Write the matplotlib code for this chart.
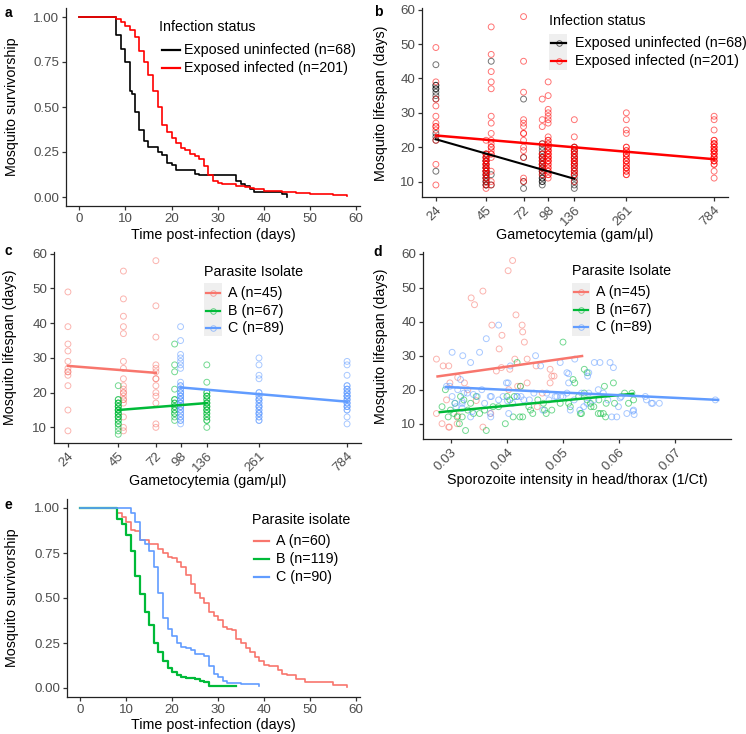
import numpy as np
import matplotlib
matplotlib.use('Agg')
import matplotlib.pyplot as plt
from matplotlib.lines import Line2D
from matplotlib.patches import Rectangle

plt.rcParams['font.family'] = ['Liberation Sans', 'DejaVu Sans']

# Kaplan-Meier curves, panel a (time in days, survival fraction)
a_unexp_t = [0, 8, 9, 10, 11, 11.5, 12, 13, 14, 15, 17, 18, 19, 20, 21, 25, 26, 34, 35, 36, 37, 38, 42, 44, 45]
a_unexp_s = [1, 0.90, 0.82, 0.75, 0.59, 0.57, 0.47, 0.37, 0.31, 0.28, 0.25, 0.235, 0.19, 0.18, 0.15, 0.13, 0.12,
             0.09, 0.07, 0.06, 0.045, 0.03, 0.03, 0.015, 0.0]
a_inf_t = [0, 8, 9, 10, 11, 12, 13, 14, 15, 16, 17, 18, 19, 20, 21, 22, 23, 24, 25, 26, 27, 28, 29, 30, 31, 32,
           34, 36, 37, 38, 40, 44, 47, 50, 55, 58]
a_inf_s = [1, 0.99, 0.97, 0.95, 0.93, 0.89, 0.81, 0.75, 0.68, 0.59, 0.50, 0.40, 0.36, 0.33, 0.30, 0.27, 0.26,
           0.24, 0.23, 0.21, 0.17, 0.12, 0.09, 0.08, 0.075, 0.07, 0.06, 0.055, 0.05, 0.045, 0.035, 0.03, 0.02,
           0.015, 0.01, 0.005]

# Kaplan-Meier curves, panel e
e_A_t = [0, 8, 9, 10, 11, 12, 13, 15, 17, 18, 19, 20, 21, 22, 23, 24, 25, 26, 27, 28, 29, 30, 31, 32, 33, 34,
         35, 36, 37, 38, 39, 40, 41, 43, 44, 45, 47, 49, 55, 58]
e_A_s = [1, 0.97, 0.95, 0.92, 0.88, 0.87, 0.82, 0.80, 0.77, 0.75, 0.73, 0.72, 0.70, 0.67, 0.63, 0.58, 0.53,
         0.50, 0.47, 0.42, 0.40, 0.38, 0.34, 0.33, 0.32, 0.27, 0.25, 0.22, 0.20, 0.17, 0.15, 0.13, 0.12, 0.10,
         0.08, 0.07, 0.05, 0.035, 0.015, 0.005]
e_B_t = [0, 8, 9, 10, 11, 12, 13, 14, 15, 16, 17, 18, 19, 20, 21, 22, 23, 25, 26, 27, 28, 34]
e_B_s = [1, 0.94, 0.91, 0.85, 0.76, 0.62, 0.52, 0.42, 0.35, 0.25, 0.20, 0.15, 0.11, 0.09, 0.07, 0.06, 0.055,
         0.05, 0.04, 0.035, 0.01, 0.01]
e_C_t = [0, 11, 12, 13, 14, 15, 16, 17, 18, 19, 20, 21, 22, 23, 24, 25, 27, 28, 29, 30, 31, 32, 35, 39]
e_C_s = [1, 0.97, 0.92, 0.82, 0.80, 0.76, 0.67, 0.53, 0.39, 0.33, 0.29, 0.25, 0.23, 0.22, 0.21, 0.19, 0.18,
         0.12, 0.08, 0.06, 0.04, 0.03, 0.02, 0.01]

# lifespan by gametocytemia, exposed uninfected (panel b)
b_unexp_gam = [24, 45, 48, 72, 91, 136]
b_unexp_life = [[44, 38, 37, 35, 34, 24, 22, 13, 36, 38, 23, 37],
                [18, 17, 16, 15, 14, 13, 12, 11, 10, 9, 16, 14, 12, 10, 9, 11, 13],
                [45, 9, 12],
                [34, 17, 8, 10],
                [21, 20, 19, 18, 17, 16, 15, 14, 13, 12, 11, 10, 9, 17, 15, 13, 11, 10, 14],
                [20, 18, 16, 14, 12, 11, 9, 8, 17, 15, 13, 10, 19]]

# lifespan by gametocytemia per isolate (panel c; also the infected group of panel b)
c_A_gam = [24, 48, 72]
c_A_life = [[49, 39, 34, 32, 29, 27, 26, 25, 22, 15, 9, 26],
            [55, 47, 42, 39, 37, 29, 27, 24, 22, 21, 20, 19, 18, 17, 13, 10, 9, 20, 18],
            [58, 45, 36, 28, 27, 26, 24, 22, 20, 19, 17, 11, 10, 24]]
c_B_gam = [45, 91, 136]
c_B_life = [[22, 18, 17, 16, 15, 14, 13, 12, 11, 10, 9, 8, 18, 17, 16, 15, 14, 13, 12, 11, 16, 15, 14, 13, 17, 15],
            [34, 28, 26, 21, 18, 17, 16, 15, 14, 12, 18, 17, 16, 15, 14, 13],
            [28, 23, 20, 19, 18, 17, 16, 15, 14, 13, 12, 10, 20, 19, 17, 16, 15, 14, 13, 12, 18, 17, 16, 19, 15]]
c_C_gam = [98, 261, 784]
c_C_life = [[39, 35, 31, 30, 29, 28, 27, 23, 22, 21, 20, 19, 18, 17, 16, 15, 14, 13, 12, 11, 22, 21, 20, 19, 18,
             17, 16, 15, 14, 13, 12, 20, 19, 18, 17, 16],
            [30, 28, 25, 24, 20, 19, 18, 17, 16, 15, 14, 13, 12, 20, 19, 18, 17, 16, 15, 14, 13, 12, 18, 16, 14],
            [29, 28, 25, 22, 21, 20, 19, 18, 17, 16, 15, 13, 11, 22, 21, 20, 19, 18, 17, 16, 15, 20, 19, 18, 17,
             16, 21, 19]]

# lifespan by sporozoite intensity (panel d)
d_A_int = [0.0274, 0.0286, 0.0296, 0.0274, 0.0284, 0.0296, 0.0292, 0.0298, 0.0311, 0.0324, 0.0336, 0.0342,
           0.0357, 0.0357, 0.0373, 0.0391, 0.0386, 0.0381, 0.0402, 0.0410, 0.0416, 0.0414, 0.0427, 0.0428,
           0.0431, 0.0419, 0.0436, 0.0436, 0.0403, 0.0477, 0.0480, 0.0484, 0.0477, 0.0452, 0.0371, 0.0312,
           0.0345, 0.0312, 0.0454, 0.0297, 0.0390, 0.0424, 0.0405, 0.0463, 0.0330]
d_A_life = [29, 27, 27, 13, 10, 9, 17, 22, 10, 22, 47, 45, 49, 9, 39, 36, 32, 25.5, 55, 58, 42, 29, 39, 37,
            34, 21, 29, 22, 20, 26, 24, 24, 22, 27, 13, 12.3, 16.8, 23.6, 15, 9, 26.5, 21, 26, 19, 20]
d_B_int = [0.0284, 0.0299, 0.0311, 0.0315, 0.0326, 0.0363, 0.0317, 0.0335, 0.0351, 0.0323, 0.0307, 0.0397,
           0.0400, 0.0405, 0.0411, 0.0423, 0.0428, 0.0418, 0.0424, 0.0439, 0.0442, 0.0446, 0.0465, 0.0467,
           0.0470, 0.0500, 0.0510, 0.0513, 0.0518, 0.0521, 0.0531, 0.0538, 0.0543, 0.0538, 0.0543, 0.0549,
           0.0555, 0.0564, 0.0567, 0.0574, 0.0577, 0.0576, 0.0590, 0.0592, 0.0617, 0.0623, 0.0626, 0.0528,
           0.0295, 0.0305, 0.0320, 0.0330, 0.0345, 0.0360, 0.0375, 0.0385, 0.0455, 0.0480, 0.0495, 0.0533,
           0.0550, 0.0563, 0.0572, 0.0610, 0.0413, 0.0290, 0.0340]
d_B_life = [15, 14, 12, 10, 8, 8, 18, 16, 13, 17, 16, 10, 18, 17, 12, 12, 12, 28, 21, 15, 14, 13, 16, 14,
            13, 34, 16, 15, 23, 22, 13, 26, 25, 19, 17, 16, 15, 17, 13, 21, 16, 12, 22, 16, 16, 19, 17, 18,
            12, 13, 12, 14, 18, 14, 15, 15, 17, 14, 16, 13, 15, 13, 13, 19, 18, 20, 13]
d_C_int = [0.0292, 0.0302, 0.0302, 0.0321, 0.0323, 0.0320, 0.0335, 0.0340, 0.0351, 0.0363, 0.0370, 0.0370,
           0.0385, 0.0399, 0.0403, 0.0406, 0.0418, 0.0430, 0.0451, 0.0460, 0.0464, 0.0471, 0.0486, 0.0495,
           0.0507, 0.0510, 0.0513, 0.0521, 0.0533, 0.0544, 0.0546, 0.0556, 0.0566, 0.0584, 0.0590, 0.0596,
           0.0602, 0.0614, 0.0626, 0.0647, 0.0658, 0.0672, 0.0772, 0.0317, 0.0320, 0.0329, 0.0307, 0.0309,
           0.0320, 0.0335, 0.0338, 0.0371, 0.0347, 0.0372, 0.0393, 0.0401, 0.0402, 0.0418, 0.0425, 0.0448,
           0.0489, 0.0496, 0.0507, 0.0510, 0.0537, 0.0546, 0.0563, 0.0572, 0.0587, 0.0599, 0.0625, 0.0627,
           0.0649, 0.0660, 0.0543, 0.0555, 0.0580, 0.0520, 0.0500, 0.0475, 0.0440, 0.0385, 0.0355, 0.0312,
           0.0298, 0.0360, 0.0410, 0.0530, 0.0604]
d_C_life = [21, 31, 18, 30, 19, 16, 28, 18.6, 31, 35, 18, 13, 39, 22, 13, 27, 18, 17, 30, 27, 14, 19, 18, 28,
            25, 22, 14, 29, 19, 24, 25, 28, 28, 28, 26.5, 12, 17.6, 13, 14, 18, 16, 16, 17, 23, 16.6, 19, 16, 15,
            14.5, 12, 13.6, 12, 18, 18, 18, 16.7, 22, 18, 18, 19, 18, 18, 19, 24.7, 15, 19, 20, 19, 12, 15,
            13.7, 12.7, 17, 16, 16, 17, 17, 17, 18, 17, 17, 17, 20, 20, 21, 16, 16, 14, 18]

# linear fits (end points)
b_fit_unexp = ([24, 136], [22.3, 10.8])
b_fit_inf = ([24, 784], [23.4, 16.5])
c_fit_A = ([24, 72], [27.7, 25.7])
c_fit_B = ([45, 136], [15.0, 17.0])
c_fit_C = ([98, 784], [21.5, 17.4])
d_fit_A = ([0.0276, 0.0534], [23.9, 29.9])
d_fit_B = ([0.0280, 0.0625], [13.4, 18.8])
d_fit_C = ([0.0291, 0.0777], [20.8, 17.0])

gam_ticks = [24, 45, 72, 98, 136, 261, 784]
col_A, col_B, col_C = '#F8766D', '#00BA38', '#619CFF'

W, H = 746, 734
fig = plt.figure(figsize=(W / 100, H / 100), dpi=100)


def box(l, t, r, b):
    return [l / W, 1 - b / H, (r - l) / W, (b - t) / H]


def style(ax):
    for s in ['top', 'right']:
        ax.spines[s].set_visible(False)
    for s in ['left', 'bottom']:
        ax.spines[s].set_color('#222222')
        ax.spines[s].set_linewidth(0.9)
    ax.tick_params(colors='#333333', labelcolor='#4D4D4D', labelsize=9.6, length=3, width=0.9, pad=2)


def expand(groups_x, groups_y):
    xs, ys = [], []
    for g, vals in zip(groups_x, groups_y):
        xs += [g] * len(vals)
        ys += vals
    return np.array(xs, float), np.array(ys, float)


def ftext(x, y, s, **kw):
    fig.text(x / W, 1 - y / H, s, **kw)


def legend(tx, ty, title, labels, colors, ys, kx, txt_x, bg=None, marker=False):
    ftext(tx, ty, title, fontsize=10.3, va='center', ha='left')
    if bg is not None:
        fig.add_artist(Rectangle((bg[0] / W, 1 - bg[3] / H), (bg[2] - bg[0]) / W, (bg[3] - bg[1]) / H,
                                 transform=fig.transFigure, facecolor='#EFEFEF', edgecolor='none'))
    for yy, lab, col in zip(ys, labels, colors):
        fig.add_artist(Line2D([kx[0] / W, kx[1] / W], [1 - yy / H] * 2, color=col, lw=1.6,
                              transform=fig.transFigure))
        if marker:
            fig.add_artist(Line2D([(kx[0] + kx[1]) / 2 / W], [1 - yy / H], marker='o', mfc='none', mec=col,
                                  ms=4, mew=0.7, alpha=0.6, lw=0, transform=fig.transFigure))
        ftext(txt_x, yy, lab, fontsize=10.3, va='center', ha='left')


def gam_axis(ax):
    ax.set_xscale('log')
    ax.set_xlim(24 * np.exp(-0.174), 784 * np.exp(0.174))
    ax.set_xticks(gam_ticks)
    ax.set_xticklabels([str(t) for t in gam_ticks], rotation=45, ha='right', va='top',
                       rotation_mode='anchor')
    ax.minorticks_off()
    ax.set_ylim(5.5, 60.5)
    ax.set_yticks([10, 20, 30, 40, 50, 60])


pts = dict(s=18, facecolors='none', linewidths=0.7, alpha=0.55)

# ---- a ----
ax = fig.add_axes(box(66, 8, 360, 206))
ax.step(a_unexp_t, a_unexp_s, where='post', color='black', lw=1.2)
ax.step(a_inf_t, a_inf_s, where='post', color='red', lw=1.2)
ax.set_xlim(-2.9, 60.9)
ax.set_ylim(-0.05, 1.05)
ax.set_xticks(range(0, 61, 10))
ax.set_yticks([0, 0.25, 0.5, 0.75, 1.0])
ax.set_yticklabels(['0.00', '0.25', '0.50', '0.75', '1.00'])
style(ax)
legend(159, 27, 'Infection status', ['Exposed uninfected (n=68)', 'Exposed infected (n=201)'],
       ['black', 'red'], [50, 68], (162, 180), 184)

# ---- b ----
ax = fig.add_axes(box(422, 8, 728, 197))
bx, by = expand(b_unexp_gam, b_unexp_life)
ax.scatter(bx, by, edgecolors='black', **pts)
rx = np.concatenate([expand(c_A_gam, c_A_life)[0], expand(c_B_gam, c_B_life)[0], expand(c_C_gam, c_C_life)[0]])
ry = np.concatenate([expand(c_A_gam, c_A_life)[1], expand(c_B_gam, c_B_life)[1], expand(c_C_gam, c_C_life)[1]])
ax.scatter(rx, ry, edgecolors='red', **pts)
ax.plot(*b_fit_unexp, color='black', lw=1.5)
ax.plot(*b_fit_inf, color='red', lw=1.8)
gam_axis(ax)
style(ax)
legend(549, 21, 'Infection status', ['Exposed uninfected (n=68)', 'Exposed infected (n=201)'],
       ['black', 'red'], [43, 61], (551, 566), 575, bg=(549, 34, 567, 70), marker=True)

# ---- c ----
ax = fig.add_axes(box(54, 252, 361, 443))
for g, v, col in [(c_A_gam, c_A_life, col_A), (c_B_gam, c_B_life, col_B), (c_C_gam, c_C_life, col_C)]:
    x, y = expand(g, v)
    ax.scatter(x, y, edgecolors=col, **pts)
for fit, col in [(c_fit_A, col_A), (c_fit_B, col_B), (c_fit_C, col_C)]:
    ax.plot(*fit, color=col, lw=1.8)
gam_axis(ax)
style(ax)
legend(204, 272, 'Parasite Isolate', ['A (n=45)', 'B (n=67)', 'C (n=89)'], [col_A, col_B, col_C],
       [293, 311, 328], (206, 220), 228, bg=(204, 283, 222, 336), marker=True)

# ---- d ----
ax = fig.add_axes(box(423, 252, 731, 439))
for x, y, col in [(d_A_int, d_A_life, col_A), (d_B_int, d_B_life, col_B), (d_C_int, d_C_life, col_C)]:
    ax.scatter(x, y, edgecolors=col, **pts)
for fit, col in [(d_fit_A, col_A), (d_fit_B, col_B), (d_fit_C, col_C)]:
    ax.plot(*fit, color=col, lw=1.8)
ax.set_xlim(0.025, 0.080)
ax.set_ylim(5.5, 60.5)
ax.set_xticks([0.03, 0.04, 0.05, 0.06, 0.07])
ax.set_xticklabels(['0.03', '0.04', '0.05', '0.06', '0.07'], rotation=45, ha='right', va='top',
                   rotation_mode='anchor')
ax.set_yticks([10, 20, 30, 40, 50, 60])
style(ax)
legend(572, 271, 'Parasite Isolate', ['A (n=45)', 'B (n=67)', 'C (n=89)'], [col_A, col_B, col_C],
       [292, 310, 327], (574, 588), 596, bg=(572, 283, 590, 336), marker=True)

# ---- e ----
ax = fig.add_axes(box(67, 499, 360, 697))
ax.step(e_A_t, e_A_s, where='post', color=col_A, lw=1.2)
ax.step(e_B_t, e_B_s, where='post', color=col_B, lw=1.6)
ax.step(e_C_t, e_C_s, where='post', color=col_C, lw=1.2)
ax.set_xlim(-2.9, 60.9)
ax.set_ylim(-0.05, 1.05)
ax.set_xticks(range(0, 61, 10))
ax.set_yticks([0, 0.25, 0.5, 0.75, 1.0])
ax.set_yticklabels(['0.00', '0.25', '0.50', '0.75', '1.00'])
style(ax)
legend(252, 520, 'Parasite isolate', ['A (n=60)', 'B (n=119)', 'C (n=90)'], [col_A, col_B, col_C],
       [541, 559, 577], (254, 269), 276)

# axis titles and panel letters
lab = dict(fontsize=10.3, ha='center', va='center')
ftext(213, 235, 'Time post-infection (days)', **lab)
ftext(575, 235, 'Gametocytemia (gam/µl)', **lab)
ftext(208, 481, 'Gametocytemia (gam/µl)', **lab)
ftext(577, 480, 'Sporozoite intensity in head/thorax (1/Ct)', **lab)
ftext(213, 725, 'Time post-infection (days)', **lab)
ftext(12, 107, 'Mosquito survivorship', rotation=90, **lab)
ftext(381, 103, 'Mosquito lifespan (days)', rotation=90, **lab)
ftext(10, 347, 'Mosquito lifespan (days)', rotation=90, **lab)
ftext(381, 346, 'Mosquito lifespan (days)', rotation=90, **lab)
ftext(12, 598, 'Mosquito survivorship', rotation=90, **lab)

for x, y, s in [(8, 13, 'a'), (378, 12, 'b'), (8, 251, 'c'), (378, 252, 'd'), (8, 505, 'e')]:
    ftext(x, y, s, fontsize=10, fontweight='bold', ha='center', va='center')

fig.savefig('out.png', dpi=100)
